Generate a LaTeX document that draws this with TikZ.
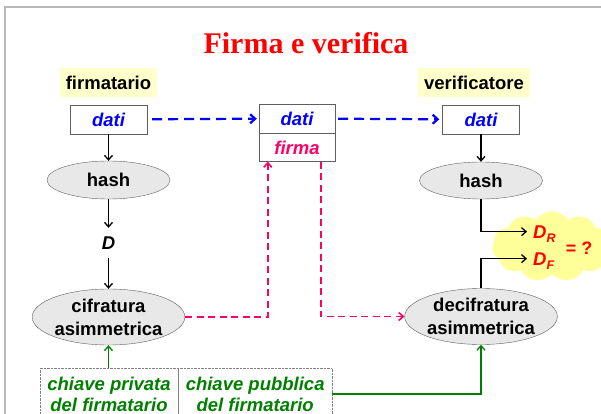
\documentclass[tikz,border=0pt]{standalone}
\usepackage{fontspec}
\setmainfont{Liberation Serif}
\setsansfont{Liberation Sans}
\usepackage{tikz}
\usetikzlibrary{positioning}
\usetikzlibrary{shapes.geometric}
\usetikzlibrary{shapes.symbols}
\usetikzlibrary{arrows.meta}
\definecolor{titlered}{RGB}{255,0,0}
\definecolor{datiblue}{RGB}{0,0,255}
\definecolor{firmapink}{RGB}{255,0,102}
\definecolor{keygreen}{RGB}{0,128,0}
\definecolor{roleyellow}{RGB}{255,255,204}
\definecolor{cloudyellow}{RGB}{255,255,153}
\definecolor{ovalgray}{RGB}{232,232,232}
\definecolor{boxgray}{RGB}{95,95,95}
\newcommand{\lblfont}{\sffamily\bfseries\fontsize{18.5}{23}\selectfont}
\newcommand{\keyfont}{\sffamily\bfseries\itshape\fontsize{18.5}{21}\selectfont}
\tikzset{%
  role/.style = {rectangle,fill=roleyellow,font=\lblfont,
        minimum height=29pt,inner xsep=6pt,inner ysep=0pt},
  msg/.style = {rectangle,draw=boxgray,fill=white,font=\lblfont\itshape,
        minimum width=77pt,minimum height=29pt,inner sep=0pt},
  op/.style = {ellipse,draw=boxgray,fill=ovalgray,font=\lblfont,
        align=center,inner sep=0pt},
  key/.style = {rectangle,draw=gray,densely dotted,font=\keyfont,text=keygreen,
        align=center,inner xsep=0pt,inner ysep=8.5pt},
  cmp/.style = {font=\lblfont\itshape,text=red,inner sep=2pt},
  tip/.style = {-{Straight Barb[length=4.5pt,width=8pt]}},
  blackarrow/.style = {tip,line width=1.3pt},
  bluearrow/.style = {-{Straight Barb[length=5pt,width=9pt]},datiblue,
        line width=2.2pt,dash pattern=on 10pt off 6pt},
  pinkarrow/.style = {tip,firmapink,line width=1.6pt,dash pattern=on 7pt off 4.5pt},
  greenarrow/.style = {tip,keygreen,line width=1.3pt}
}
\begin{document}
\begin{tikzpicture}[x=1pt,y=-1pt]
  \useasboundingbox (0,0) rectangle (601,414);
  \clip (0,0) rectangle (601,414);
  \draw[gray!55,line width=1.3pt] (5,414) -- (5,7) -- (601,7);

  \node[font=\rmfamily\bfseries\fontsize{30}{34}\selectfont,text=titlered] (title) at (306,43) {Firma e verifica};

  \node[role] (signer) at (108.5,82.5) {firmatario};
  \node[role] (verifier) at (474,82.5) {verificatore};

  \node[msg,text=datiblue] (ldati) at (108.5,119.5) {dati};
  \node[msg,text=datiblue,minimum width=76pt] (mdati) at (297,118.5) {dati};
  \node[msg,text=firmapink,minimum width=76pt,minimum height=28pt] (mfirma) [below=0pt of mdati] {firma};
  \node[msg,text=datiblue] (rdati) at (481,119.5) {dati};

  \node[op,minimum width=123pt,minimum height=38pt] (lhash) at (108.5,180) {hash};
  \node[font=\lblfont\itshape,minimum height=30pt,inner sep=0pt] (digest) at (108.5,243) {D};
  \node[op,minimum width=151pt,minimum height=56pt] (cifr) at (108.5,317) {cifratura\\asimmetrica};

  \node[op,minimum width=123pt,minimum height=37pt] (rhash) at (481,180.5) {hash};
  \node[op,minimum width=151pt,minimum height=56pt] (decifr) at (481,316.5) {decifratura\\asimmetrica};

  \node[cloud,cloud puffs=11,cloud puff arc=110,cloud ignores aspect,fill=cloudyellow,
        minimum width=120pt,minimum height=70pt,inner sep=0pt] (bubble) at (552,246.5) {};
  \node[cmp,anchor=base west] (dr) at (531,238) {D\smash{\raisebox{-0.45ex}{\fontsize{12.5}{14}\selectfont R}}};
  \node[cmp,anchor=base west] (df) at (531,265) {D\smash{\raisebox{-0.45ex}{\fontsize{12.5}{14}\selectfont F}}};
  \node[cmp,font=\sffamily\bfseries\fontsize{18}{20}\selectfont] (eq) at (579,248) {= ?};

  \node[key,anchor=north,minimum width=138pt] (keypriv) at (109,368) {chiave privata\\del firmatario};
  \node[key,minimum width=153.5pt] (keypub) [right=0pt of keypriv] {chiave pubblica\\del firmatario};

  \draw[bluearrow,shorten <=5pt,shorten >=2pt] (ldati) -- (mdati);
  \draw[bluearrow,shorten <=3pt,shorten >=3pt] (mdati) -- (rdati);

  \draw[blackarrow] (ldati) -- (lhash);
  \draw[blackarrow] (lhash) -- (digest);
  \draw[blackarrow] (digest) -- (cifr);
  \draw[blackarrow] (rdati.south -| rhash.north) -- (rhash);
  \draw[blackarrow,shorten >=4pt] (rhash.south) |- (dr.west);
  \draw[blackarrow,shorten >=4pt] (decifr.north) |- (df.west);

  \draw[pinkarrow] (cifr.east) -| ([xshift=9pt]mfirma.south west);
  \draw[pinkarrow] ([xshift=-14.5pt]mfirma.south east) |- (decifr.west);

  \draw[greenarrow] (keypriv.north -| cifr.south) -- (cifr.south);
  \draw[greenarrow] (keypub.east) -| (decifr.south);
\end{tikzpicture}
\end{document}
